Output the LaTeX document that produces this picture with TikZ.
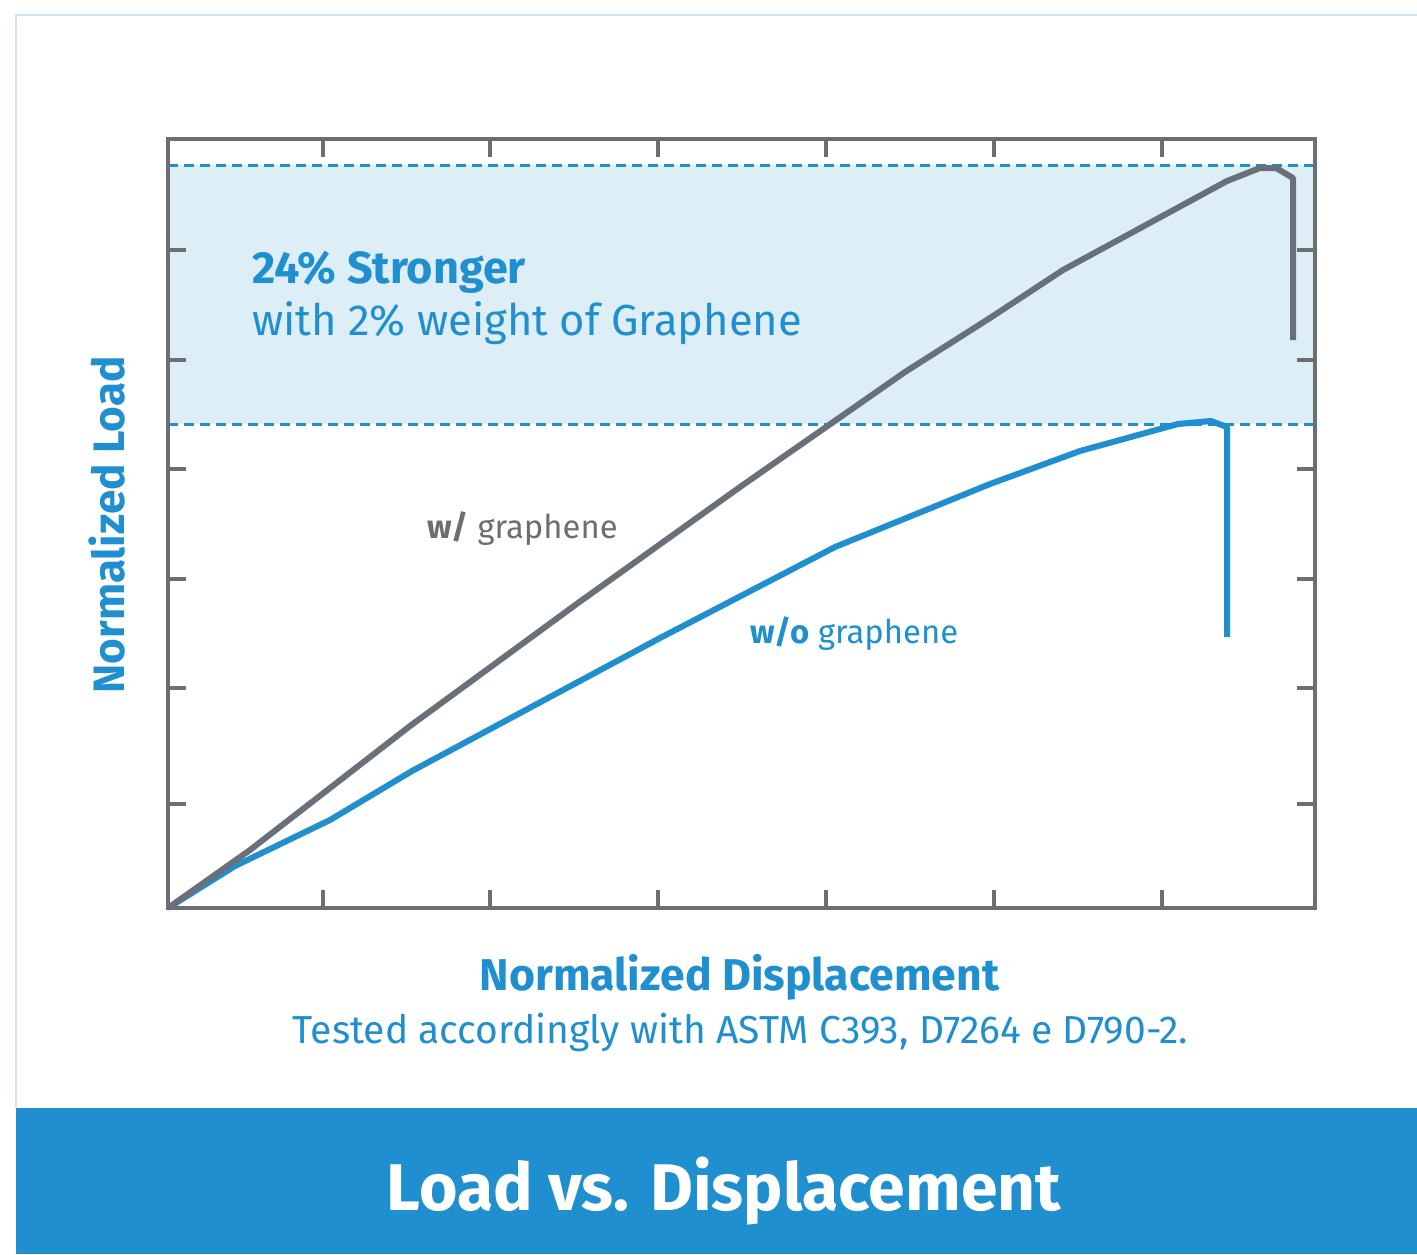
\documentclass[tikz,border=0pt]{standalone}
\usepackage{fontspec}
\setmainfont{Fira Sans}
\definecolor{brandblue}{HTML}{1F8FD0}
\definecolor{framegray}{HTML}{6D6E71}
\definecolor{curvegray}{HTML}{6A7079}
\definecolor{bandfill}{HTML}{DDEEF7}
\definecolor{edgeblue}{HTML}{CFE5F3}
\begin{document}
\begin{tikzpicture}[x=1pt,y=-1pt,
  frame/.style={draw=framegray,line width=4pt},
  tickmark/.style={draw=framegray,line width=3.5pt},
  limitline/.style={draw=brandblue,line width=3pt,dash pattern=on 10pt off 6pt},
  curve/.style={line width=6pt,line join=round},
  label/.style={inner sep=0pt,anchor=base west}]
\useasboundingbox (0,0) rectangle (1417,1254);
\fill[white] (0,0) rectangle (1417,1254);

% outer panel edge
\draw[edgeblue,line width=2.5pt] (1417,15) -- (16,15) -- (16,1108);

% plot area corners
\coordinate (ll) at (168,908);
\coordinate (ur) at (1315,139);

% strength band between the two peak loads
\fill[bandfill] (168,165) rectangle (1315,424);
\draw[limitline] (168,165) -- (1315,165);
\draw[limitline] (168,424) -- (1315,424);

% ticks
\foreach \tx in {323,490,658,826,994,1162}{
  \draw[tickmark] (\tx,908) -- (\tx,890);
  \draw[tickmark] (\tx,139) -- (\tx,157);
}
\foreach \ty in {250,360,469,579,688,804}{
  \draw[tickmark] (168,\ty) -- (186,\ty);
  \draw[tickmark] (1315,\ty) -- (1297,\ty);
}

% without graphene
\draw[curve,brandblue] (ll) -- (235,866) -- (330,820) -- (412,771) -- (494,727)
  -- (660,638) -- (835,547) -- (990,484) -- (1080,451) -- (1178,424)
  -- (1211,421) -- (1227,427) -- (1227,637);

% with graphene
\draw[curve,curvegray] (ll) -- (250,850) -- (410,726) -- (578,603) -- (740,487)
  -- (905,372) -- (990,318) -- (1063,270) -- (1227,181) -- (1260,168)
  -- (1276,168) -- (1293,178) -- (1293,340);

% frame on top
\draw[frame] (ll) rectangle (ur);

% annotations
\node[label,text=brandblue,font=\bfseries\fontsize{45}{52}\selectfont] (gain) at (252,283) {24\% Stronger};
\node[label,text=brandblue,font=\fontsize{43.5}{50}\selectfont] (gainsub) at (252,335) {with 2\% weight of Graphene};
\node[label,text=framegray,font=\fontsize{32.8}{38}\selectfont] (withg) at (427,538) {\textbf{w/} graphene};
\node[label,text=brandblue,font=\fontsize{32.8}{38}\selectfont] (withoutg) at (750,643) {\textbf{w/o} graphene};

% axis titles
\node[text=brandblue,font=\bfseries\fontsize{44}{52}\selectfont,rotate=90,inner sep=0pt] (ylab) at (107,525) {Normalized Load};
\node[text=brandblue,font=\bfseries\fontsize{44.5}{52}\selectfont,inner sep=0pt,anchor=base] (xlab) at (739.5,990) {Normalized Displacement};
\node[text=brandblue,font=\fontsize{39}{46}\selectfont,inner sep=0pt,anchor=base] (note) at (740.5,1043) {Tested accordingly with ASTM C393, D7264 e D790-2.};

% title band
\fill[brandblue] (16,1108) rectangle (1417,1254);
\node[text=white,font=\bfseries\fontsize{66}{76}\selectfont,inner sep=0pt,anchor=base] (title) at (724,1210) {Load vs. Displacement};
\end{tikzpicture}
\end{document}
